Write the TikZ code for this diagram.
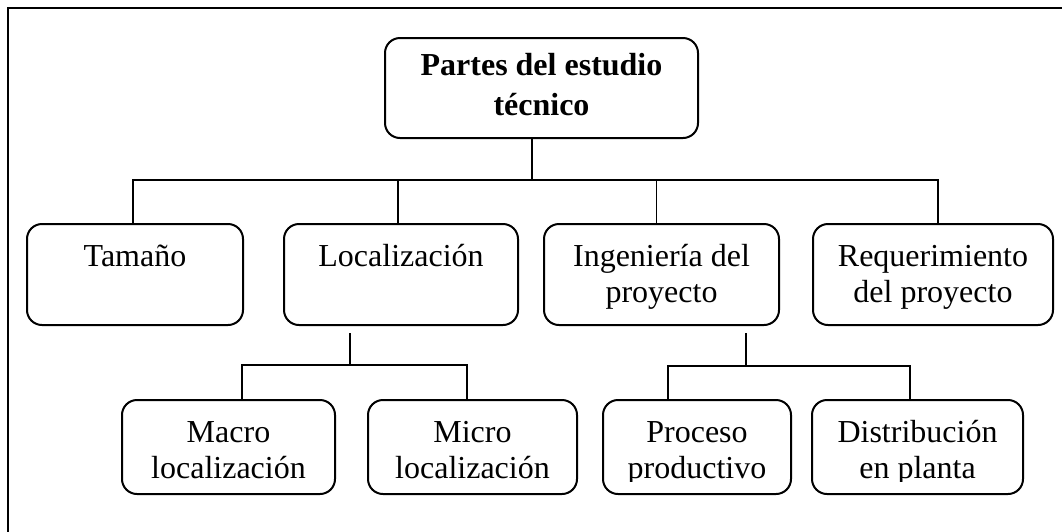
\documentclass[tikz,border=0pt]{standalone}
\usepackage{fontspec}
\setmainfont{Liberation Serif}

\tikzset{
  caja/.style={draw, line width=2pt, rounded corners=15pt, inner sep=0pt},
  texto/.style={anchor=base, inner sep=0pt, font=\fontsize{32}{36}\selectfont},
  textob/.style={texto, font=\fontsize{32}{36}\selectfont\bfseries},
  linea/.style={line width=1.5pt},
}

\begin{document}
\begin{tikzpicture}[x=1pt, y=-1pt]
  \useasboundingbox (0,0) rectangle (1062,531);
  % marco exterior (cortado a la derecha y abajo)
  \draw[line width=2pt] (8,8) rectangle (1090,560);

  % caja principal
  \node[caja, minimum width=313pt, minimum height=100pt] (arriba) at (541.5,88) {};
  \node[textob] (arriba-t) at ([yshift=-38pt]arriba.north)
    {\begin{tabular}[t]{@{}c@{}}Partes del estudio\\[4pt] técnico\end{tabular}};

  % segundo nivel
  \foreach \n/\cx/\an/\txt in {tam/135/216/{Tamaño}, loc/401/234/{Localización},
      ing/661.5/235/{Ingeniería del\\ proyecto}, req/933/240/{Requerimiento\\ del proyecto}} {
    \node[caja, minimum width=\an pt, minimum height=101pt] (\n) at (\cx,274.5) {};
    \node[texto] (\n-t) at ([yshift=-43pt]\n.north)
      {\begin{tabular}[t]{@{}c@{}}\txt\end{tabular}};
  }

  % tercer nivel (texto cortado por abajo como en el original)
  \foreach \n/\cx/\an in {mac/228.5/213, mic/472.5/209, pro/697/188, dis/917.5/211} {
    \node[caja, minimum width=\an pt, minimum height=94pt] (\n) at (\cx,447) {};
  }
  \begin{scope}
    \clip (0,0) rectangle (1062,481);
    \foreach \n/\txt in {mac/{Macro\\ localización}, mic/{Micro\\ localización},
        pro/{Proceso\\ productivo}, dis/{Distribución\\ en planta}} {
      \node[texto] (\n-t) at ([yshift=-43pt]\n.north)
        {\begin{tabular}[t]{@{}c@{}}\txt\end{tabular}};
    }
  \end{scope}

  % conectores
  \coordinate (jt) at (532,180);
  \coordinate (jl) at (350,365);
  \coordinate (ji) at (746,366);
  \draw[linea] (arriba.south -| jt) -- (jt);
  \draw[linea] ([xshift=-2pt]tam.north) |- (jt) -| ([xshift=5pt]req.north);
  \foreach \n/\dx in {loc/-3, ing/-5}
    \draw[linea] ([xshift=\dx pt]\n.north) -- ([xshift=\dx pt]\n.north |- jt);

  \draw[linea] ([yshift=-7pt]loc.south -| jl) -- (jl);
  \draw[linea] ([xshift=13.5pt]mac.north) |- (jl) -| ([xshift=-5.5pt]mic.north);
  \draw[linea] ([yshift=-7pt]ing.south -| ji) -- (ji);
  \draw[linea] ([xshift=-29pt]pro.north) |- (ji) -| ([xshift=-7.5pt]dis.north);
\end{tikzpicture}
\end{document}
